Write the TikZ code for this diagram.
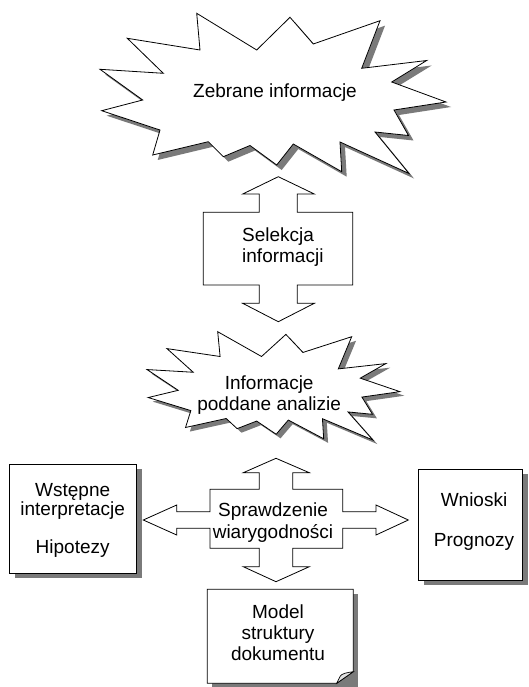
\documentclass[tikz,border=0pt]{standalone}
\usepackage{fontspec}
\setmainfont{Liberation Sans}
\usetikzlibrary{shadows}
\newcommand\zstar[1]{%
  \path[#1] (196.7,13.3) -- (256.7,50) -- (290,17.3) -- (313.3,44) -- (380,20.7)
    -- (361.7,68.3) -- (426.7,60.5) -- (391.7,82) -- (446,102) -- (394,110)
    -- (408.5,135.5) -- (375,132) -- (409,173.5) -- (340,142) -- (341.7,171.7)
    -- (293.3,144) -- (276.7,165) -- (250,145.5) -- (223.3,156.7) -- (208.3,141.7)
    -- (152.7,155) -- (160,130) -- (101.7,110.7) -- (142.7,100) -- (100,69.3)
    -- (163.3,73.3) -- (127.3,38.3) -- (200,50) -- cycle;}
\begin{document}
\begin{tikzpicture}[x=1pt,y=-1pt,line join=miter]
\tikzset{
  outline/.style={draw=black,line width=0.8pt,fill=white},
  shadowfill/.style={fill=black!52,draw=none},
  txt/.style={font=\fontsize{19}{20.5}\selectfont,inner sep=0pt,align=center},
  boxshape/.style={outline,rectangle,inner sep=0pt,
    drop shadow={shadow xshift=6pt,shadow yshift=-5pt,fill=black!52,opacity=1}},
}
\useasboundingbox (0,0) rectangle (529,687);
\fill[white] (0,0) rectangle (529,687);

% big star
\zstar{shadowfill,shift={(5,5)}}
\zstar{outline}
\node[txt] (zebr) at (275,93) {Zebrane informacje};

% selekcja arrow
\draw[outline] (278.3,176.7) -- (314.3,194) -- (297.3,194) -- (297.3,212.3)
  -- (352.7,212.3) -- (352.7,285) -- (297.3,285) -- (297.3,303.3) -- (314.3,303.3)
  -- (278.3,321.7) -- (242.7,303.3) -- (259.3,303.3) -- (259.3,285) -- (203.3,285)
  -- (203.3,212.3) -- (259.3,212.3) -- (259.3,194) -- (242.7,194) -- cycle;
\node[txt,align=left,anchor=west] (sel) at (242,247) {Selekcja\\informacji};

% small star
\begin{scope}[shift={(147,331.7)},x=0.731pt,y=-0.676pt,shift={(-100,-13.3)}]
  \zstar{shadowfill,shift={(6,6)}}
  \zstar{outline}
\end{scope}
\node[txt,font=\fontsize{19}{21}\selectfont] (ipa) at (269.2,395.5) {Informacje\\poddane analizie};

% cross arrow
\draw[outline] (276,458.3) -- (309.3,472.7) -- (292.7,472.7) -- (292.7,489.3)
  -- (342.7,489.3) -- (342.7,511.7) -- (376,511.7) -- (376,505) -- (408.3,520)
  -- (376,535) -- (376,528.3) -- (342.7,528.3) -- (342.7,548.3) -- (292.7,548.3)
  -- (292.7,566.7) -- (309.3,566.7) -- (276,581.7) -- (243.3,566.7) -- (259.3,566.7)
  -- (259.3,548.3) -- (210,548.3) -- (210,528.3) -- (176.7,528.3) -- (176.7,535)
  -- (143.3,520) -- (176.7,505) -- (176.7,511.7) -- (210,511.7) -- (210,489.3)
  -- (259.3,489.3) -- (259.3,472.7) -- (243.3,472.7) -- cycle;
\node[txt,font=\fontsize{19}{21.5}\selectfont] (spr) at (273,522.5) {Sprawdzenie\\wiarygodności};

% left box
\node[boxshape,minimum width=126.7pt,minimum height=109.3pt] (wstbox) at (72.65,518.65) {};
\node[txt,font=\fontsize{19}{19}\selectfont] (wst) at (72.7,520) {Wstępne\\interpretacje\\[19pt]Hipotezy};

% right box
\node[boxshape,minimum width=104pt,minimum height=110.7pt] (wnbox) at (470,524.65) {};
\node[txt,font=\fontsize{19}{20}\selectfont] (wn) at (474,521.7) {Wnioski\\[20pt]Prognozy};

% model box with folded corner
\fill[shadowfill] (212.3,594) rectangle (358.3,687);
\draw[outline] (207.3,589.3) -- (353.3,589.3) -- (353.3,671.7) -- (336.7,683.3)
  -- (207.3,683.3) -- cycle;
\draw[draw=black,line width=0.7pt,fill=black!12] (353.3,671.7)
  .. controls (347,672.5) and (341.5,673.5) .. (340,676.5) -- (336.7,683.3) -- cycle;
\node[txt,font=\fontsize{19}{21}\selectfont] (model) at (278,632.5) {Model\\struktury\\dokumentu};
\end{tikzpicture}
\end{document}
